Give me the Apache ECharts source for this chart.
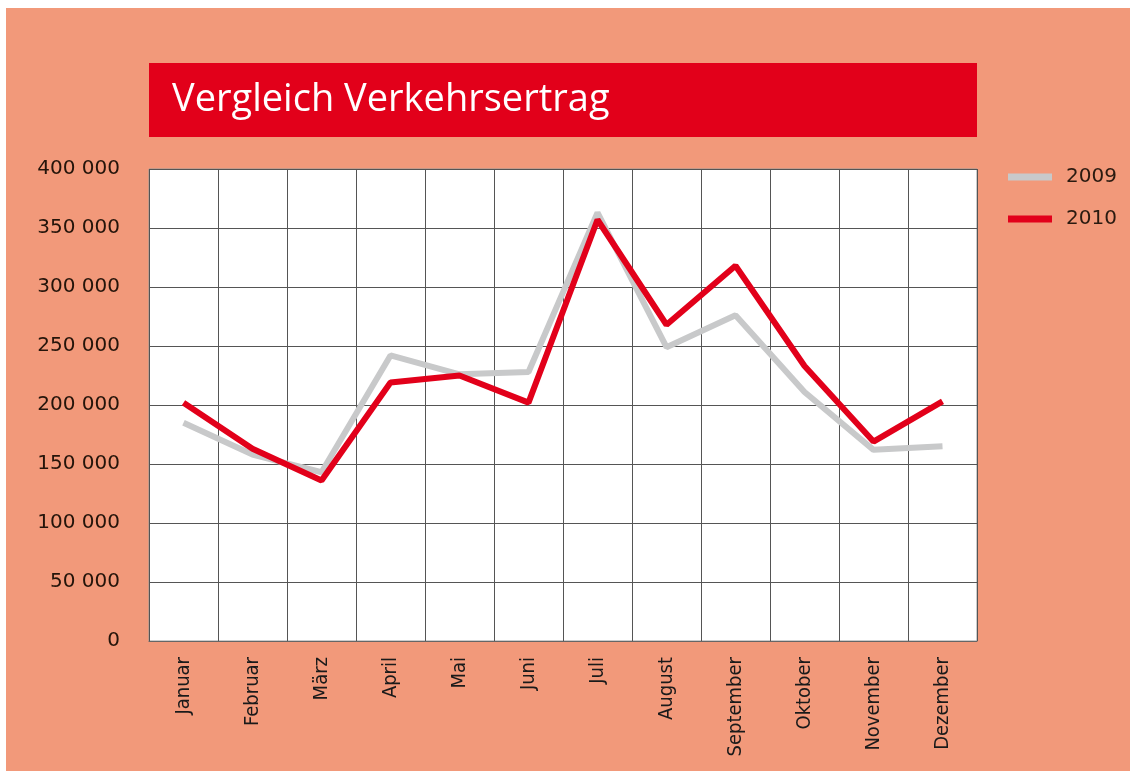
<!DOCTYPE html>
<html>
<head>
<meta charset="utf-8">
<script src="https://cdn.jsdelivr.net/npm/echarts@6/dist/echarts.min.js"></script>
<style>
html,body{margin:0;padding:0;background:#fff;}
#bg{position:absolute;left:6px;top:8px;width:1124px;height:763px;background:#f2997a;}
#chart{position:absolute;left:0;top:0;width:1130px;height:771px;}
</style>
</head>
<body>
<div id="bg"></div>
<div id="chart"></div>
<script>
var months = ['Januar','Februar','März','April','Mai','Juni','Juli','August','September','Oktober','November','Dezember'];
var v2009 = [185000,158000,143000,242000,226000,228000,363000,249000,276000,211000,162000,165000];
var v2010 = [202000,163000,136000,219000,225000,202000,357000,268000,318000,233000,169000,203000];

var chart = echarts.init(document.getElementById('chart'));

// Tausender mit Leerzeichen
function fmt(v){
    return String(v).replace(/\B(?=(\d{3})+(?!\d))/g, ' ');
}

chart.setOption({
    backgroundColor: 'transparent',
    textStyle: {fontFamily: 'DejaVu Sans'},
    graphic: [{
        type: 'rect',
        shape: {x: 149, y: 63, width: 828, height: 74},
        style: {fill: '#e2001a'}
    }, {
        type: 'text',
        x: 172, y: 100,
        style: {
            text: 'Vergleich Verkehrsertrag',
            fill: '#fff',
            font: '38px "Open Sans"',
            verticalAlign: 'middle'
        }
    }],
    legend: {
        orient: 'vertical',
        left: 1003,
        top: 162,
        itemWidth: 44,
        itemHeight: 7,
        itemGap: 22,
        icon: 'rect',
        textStyle: {fontSize: 20, color: '#2a1a10', padding: [0, 0, 0, 9]},
        data: ['2009', '2010']
    },
    grid: {
        left: 149, right: 153, top: 169, bottom: 130,
        show: true,
        backgroundColor: '#fff',
        borderColor: '#999',
        borderWidth: 1
    },
    xAxis: {
        type: 'category',
        data: months,
        boundaryGap: true,
        axisLine: {lineStyle: {color: '#666'}},
        axisTick: {show: false},
        axisLabel: {
            rotate: 90,
            interval: 0,
            margin: 16,
            fontSize: 20,
            color: '#1a1a1a',
            fontFamily: 'DejaVu Sans Condensed'
        },
        splitLine: {show: true, interval: 0, lineStyle: {color: '#555', width: 1}}
    },
    yAxis: {
        type: 'value',
        min: 0,
        max: 400000,
        interval: 50000,
        axisLine: {show: false},
        axisTick: {show: false},
        axisLabel: {
            margin: 29,
            fontSize: 20,
            color: '#24140a',
            padding: [4, 0, 0, 0],
            formatter: fmt
        },
        splitLine: {lineStyle: {color: '#555', width: 1}}
    },
    series: [{
        name: '2009',
        type: 'line',
        data: v2009,
        symbol: 'none',
        color: '#c8c9ca',
        lineStyle: {width: 6, color: '#c8c9ca'}
    }, {
        name: '2010',
        type: 'line',
        data: v2010,
        symbol: 'none',
        color: '#e2001a',
        lineStyle: {width: 6, color: '#e2001a'}
    }]
});
</script>
</body>
</html>
